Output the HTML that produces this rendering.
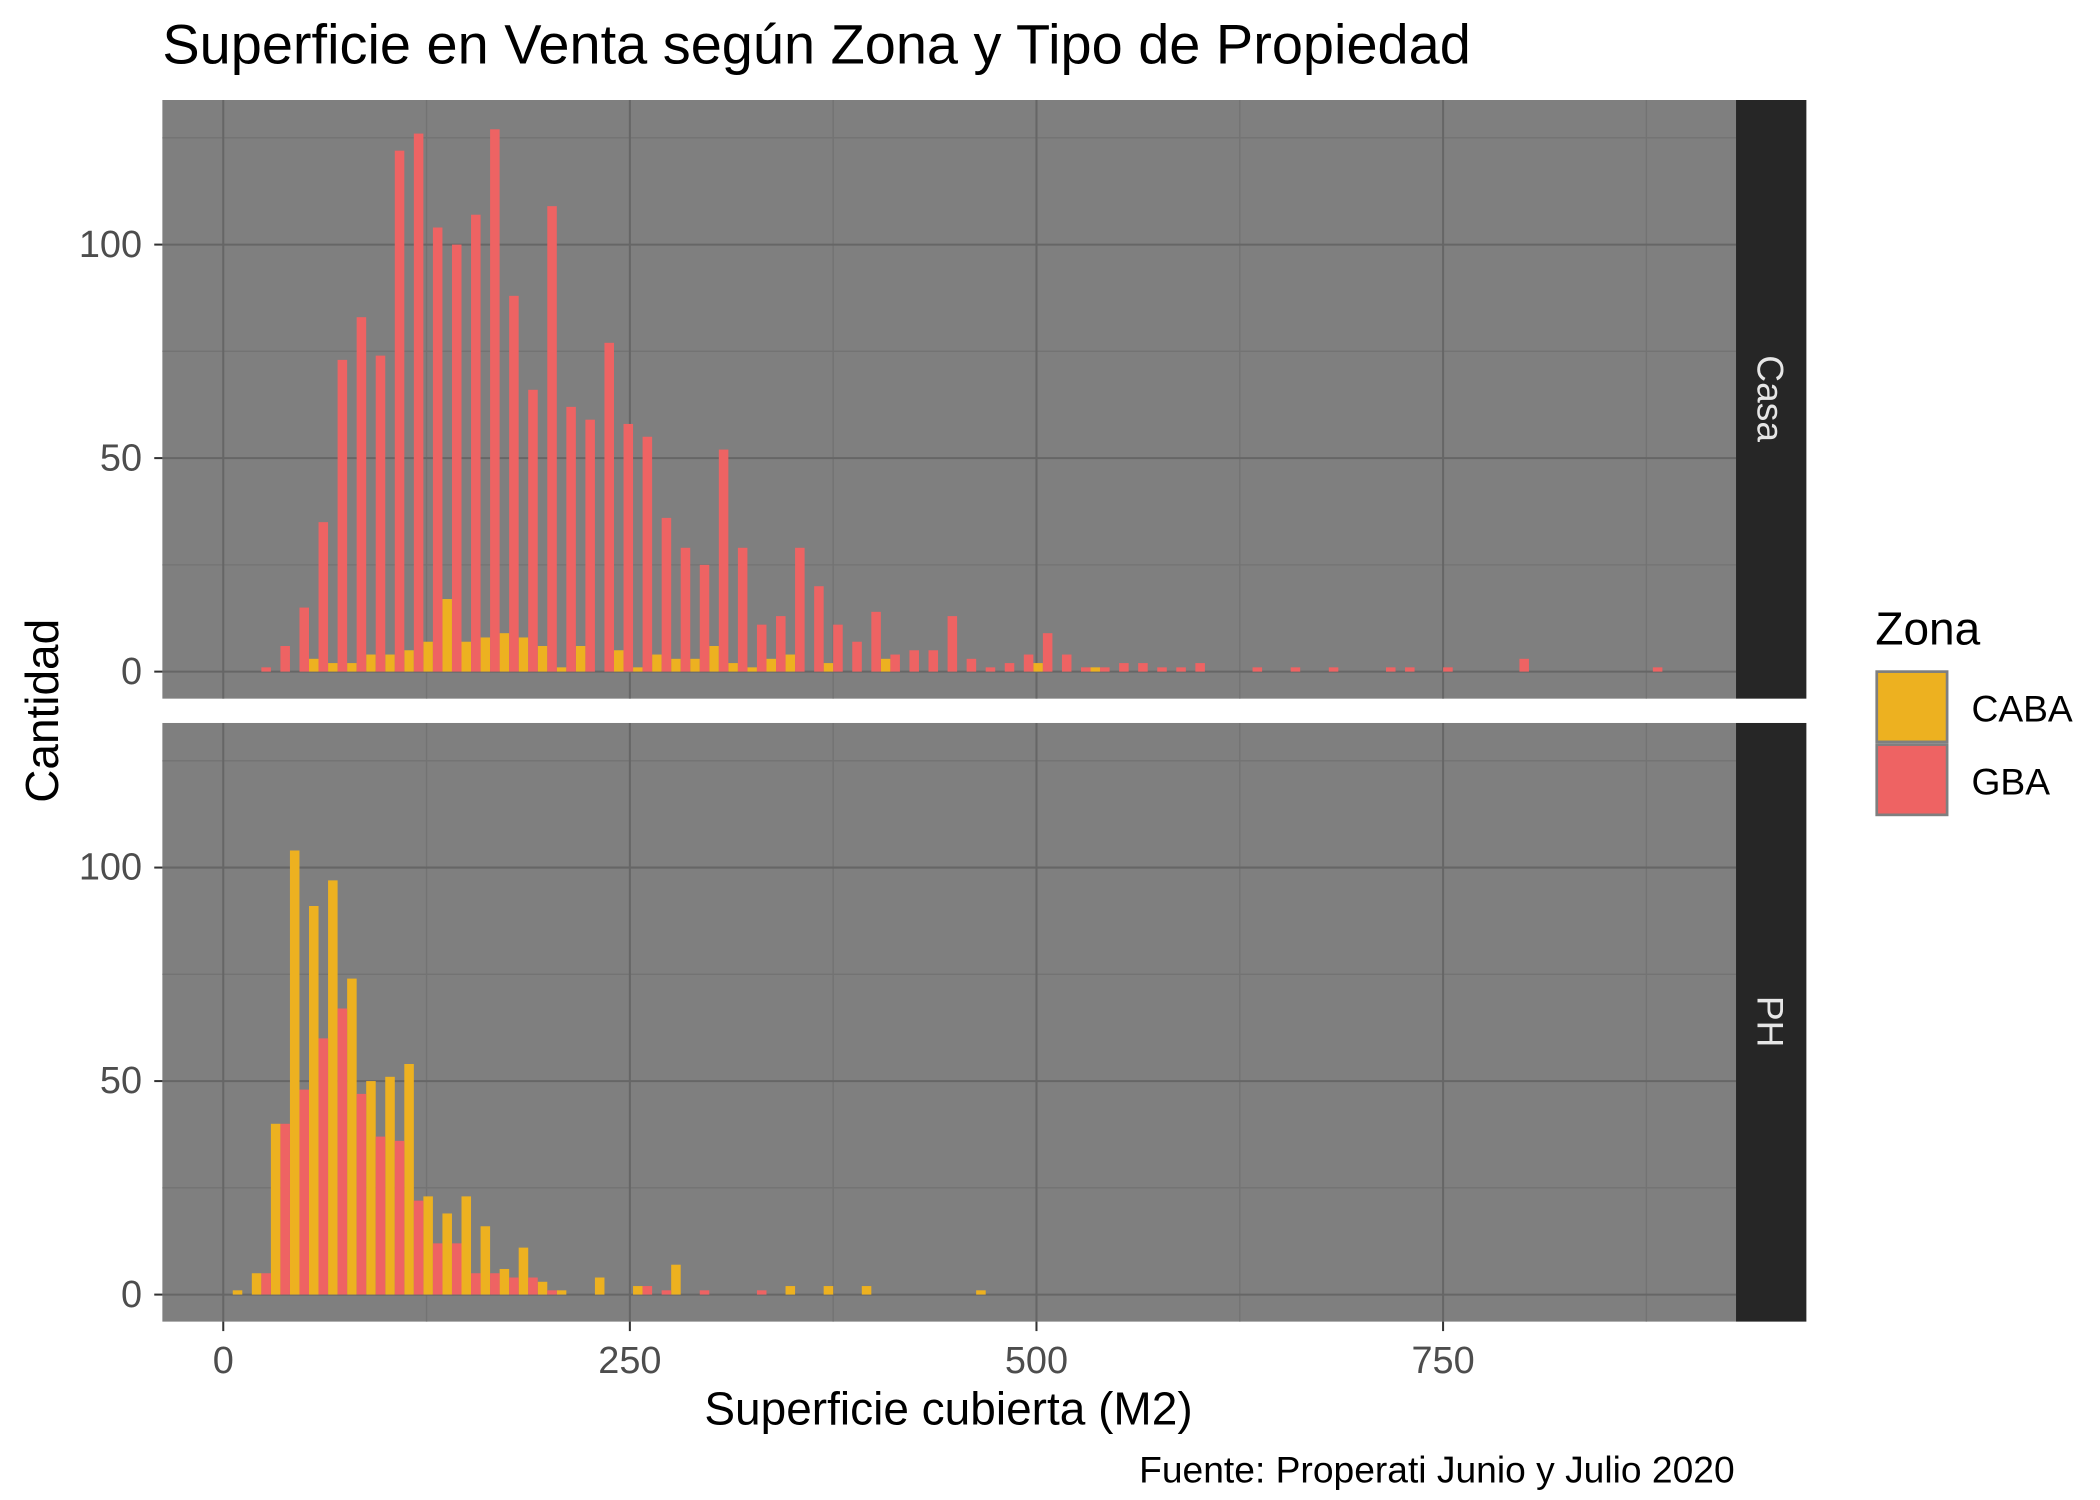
<!DOCTYPE html>
<html><head><meta charset="utf-8">
<style>html,body{margin:0;padding:0;background:#fff}svg{display:block}text{font-family:"Liberation Sans",Arial,sans-serif}</style>
</head><body>
<svg id="chart" width="2100" height="1500" viewBox="0 0 1552 1110" preserveAspectRatio="none" xmlns="http://www.w3.org/2000/svg">
<text x="120" y="47" font-size="41.5" textLength="967" lengthAdjust="spacingAndGlyphs" fill="#000">Superficie en Venta según Zona y Tipo de Propiedad</text>
<g id="panels"></g>
<text transform="translate(43,526) rotate(-90)" text-anchor="middle" font-size="34" fill="#000">Cantidad</text>
<text x="701" y="1054" text-anchor="middle" font-size="34" fill="#000">Superficie cubierta (M2)</text>
<text x="1282" y="1097" text-anchor="end" font-size="27.5" fill="#000">Fuente: Properati Junio y Julio 2020</text>
<text x="1386" y="477" font-size="34" fill="#000">Zona</text>
<rect x="1387" y="497" width="52" height="52" fill="#EDB120" stroke="#7f7f7f" stroke-width="2"/>
<rect x="1387" y="551" width="52" height="52" fill="#EE6363" stroke="#7f7f7f" stroke-width="2"/>
<text x="1457" y="534" font-size="27.5" fill="#000">CABA</text>
<text x="1457" y="588" font-size="27.5" fill="#000">GBA</text>
</svg>
<script>
const binStart = 11.7;
const binWidth = 11.72;
const nBins = 75;
const casaGBA = {1:1,2:6,3:15,4:35,5:73,6:83,7:74,8:122,9:126,10:104,11:100,12:107,13:127,14:88,15:66,16:109,17:62,18:59,19:77,20:58,21:55,22:36,23:29,24:25,25:52,26:29,27:11,28:13,29:29,30:20,31:11,32:7,33:14,34:4,35:5,36:5,37:13,38:3,39:1,40:2,41:4,42:9,43:4,44:1,45:1,46:2,47:2,48:1,49:1,50:2,53:1,55:1,57:1,60:1,61:1,63:1,67:3,74:1};
const casaCABA = {4:3,5:2,6:2,7:4,8:4,9:5,10:7,11:17,12:7,13:8,14:9,15:8,16:6,17:1,18:6,20:5,21:1,22:4,23:3,24:3,25:6,26:2,27:1,28:3,29:4,31:2,34:3,42:2,45:1};
const phCABA = {0:1,1:5,2:40,3:104,4:91,5:97,6:74,7:50,8:51,9:54,10:23,11:19,12:23,13:16,14:6,15:11,16:3,17:1,19:4,21:2,23:7,29:2,31:2,33:2,39:1};
const phGBA = {1:5,2:40,3:48,4:60,5:67,6:47,7:37,8:36,9:22,10:12,11:12,12:5,13:5,14:4,15:4,16:1,21:2,22:1,24:1,27:1};
const xTicks = [0,250,500,750];
const yTicks = [0,50,100];
const facets = ['Casa','PH'];

const NS='http://www.w3.org/2000/svg';
const g=document.getElementById('panels');
function el(t,a,p){const e=document.createElementNS(NS,t);for(const k in a)e.setAttribute(k,a[k]);(p||g).appendChild(e);return e;}
const X0=120,X1=1283;
function xs(v){return 165+v*(766-165)/500;}
const panelTops=[74,535];
const data=[[casaCABA,casaGBA],[phCABA,phGBA]];
facets.forEach((f,fi)=>{
  const top=panelTops[fi],bot=top+443;
  const zeroY=top+423;
  const ys=v=>zeroY-v*(158/50);
  const pg=el('g',{});
  
  
  el('rect',{x:X0,y:top,width:X1-X0,height:443,fill:'#7f7f7f'},pg);
  [125,375,625,875].forEach(v=>el('line',{x1:xs(v),x2:xs(v),y1:top,y2:bot,stroke:'#737373','stroke-width':1},pg));
  [25,75,125].forEach(v=>el('line',{x1:X0,x2:X1,y1:ys(v),y2:ys(v),stroke:'#737373','stroke-width':1},pg));
  xTicks.forEach(v=>el('line',{x1:xs(v),x2:xs(v),y1:top,y2:bot,stroke:'#666','stroke-width':1.5},pg));
  yTicks.forEach(v=>{
    el('line',{x1:X0,x2:X1,y1:ys(v),y2:ys(v),stroke:'#666','stroke-width':1.5},pg);
    el('line',{x1:X0-6,x2:X0,y1:ys(v),y2:ys(v),stroke:'#333','stroke-width':1.5},pg);
    const t=el('text',{x:X0-15,y:ys(v)+9,'text-anchor':'end','font-size':28,fill:'#4d4d4d'},pg);
    
    
    t.textContent=v;
  });
  const bw=binWidth*(766-165)/500/2;
  const cols=['#EDB120','#EE6363'];
  data[fi].forEach((series,si)=>{
    for(let k=0;k<nBins;k++){
      const v=series[k];if(!v)continue;
      const cx=xs(binStart+k*binWidth);
      const r=el('rect',{x:cx-bw+si*bw,y:ys(v),width:bw,height:zeroY-ys(v),fill:cols[si]},pg);
      
      
    }
  });
  const s=el('rect',{x:1283,y:top,width:52,height:443,fill:'#262626'},pg);
  
  
  const st=el('text',{transform:`translate(1299,${top+221}) rotate(90)`,'text-anchor':'middle','font-size':27.5,fill:'#e6e6e6'},pg);
  
  
  st.textContent=f;
});
xTicks.forEach(v=>{
  el('line',{x1:xs(v),x2:xs(v),y1:978,y2:985,stroke:'#333','stroke-width':1.5});
  const t=el('text',{x:xs(v),y:1016,'text-anchor':'middle','font-size':28,fill:'#4d4d4d'});
  
  
  t.textContent=v;
});
</script>
</body></html>
